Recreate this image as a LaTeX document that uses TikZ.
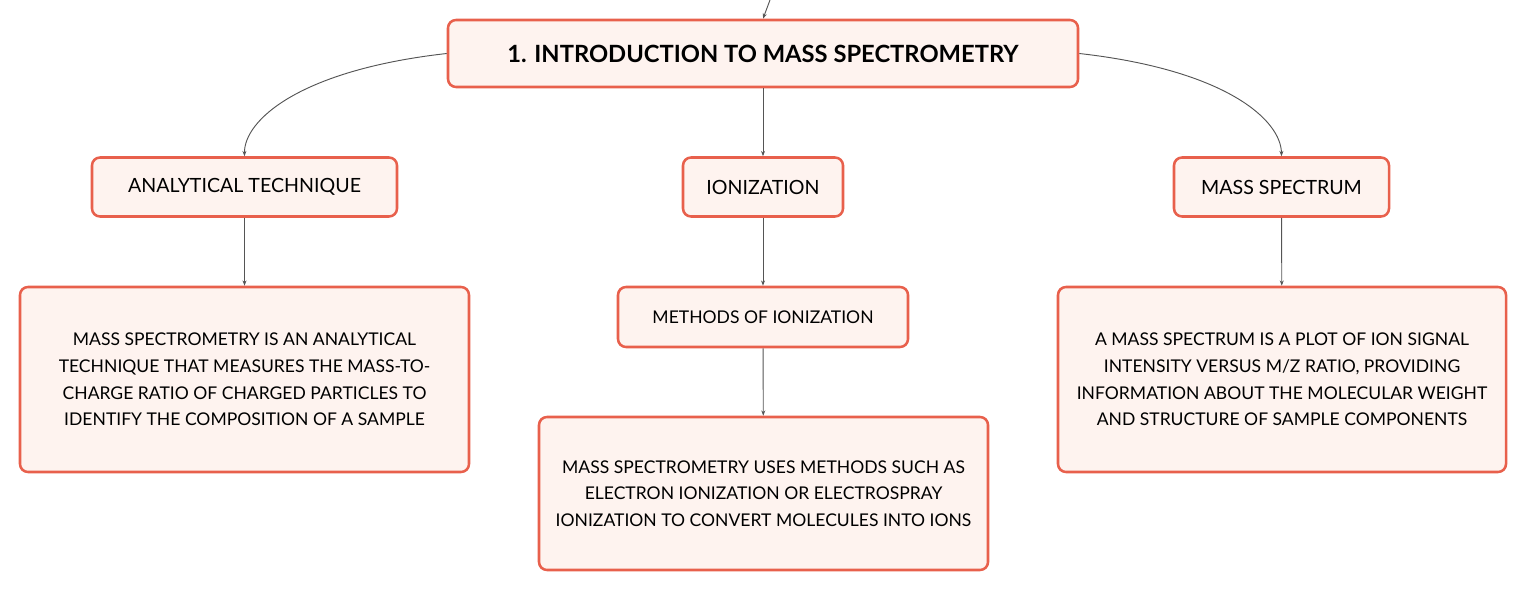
\documentclass[tikz,border=0pt]{standalone}
\usepackage{fontspec}
\setmainfont{Lato}
\usetikzlibrary{arrows.meta}
\definecolor{boxline}{HTML}{E8604C}
\definecolor{boxfill}{HTML}{FEF3EF}
\definecolor{linkgray}{HTML}{555555}
\tikzset{
	topicbox/.style={draw=boxline,fill=boxfill,line width=1.9pt,rounded corners=6pt,align=center,inner sep=0pt},
	link/.style={draw=linkgray,line width=0.7pt,-{Stealth[length=4pt,width=3pt]}}
}
\begin{document}
\begin{tikzpicture}[x=0.75pt,y=-0.75pt]
		\useasboundingbox (0,0) rectangle (1527,591);
		\node[topicbox,minimum width=630*0.75pt,minimum height=67*0.75pt,font=\fontsize{17.8}{20}\selectfont\bfseries] (intro) at (763,53.5) {1. INTRODUCTION TO MASS SPECTROMETRY};
		\node[topicbox,minimum width=305*0.75pt,minimum height=59*0.75pt,font=\fontsize{14.7}{16}\selectfont] (tech) at (244.5,187) {ANALYTICAL TECHNIQUE};
		\node[topicbox,minimum width=160*0.75pt,minimum height=59*0.75pt,font=\fontsize{14.7}{16}\selectfont] (ion) at (763,187) {IONIZATION};
		\node[topicbox,minimum width=215*0.75pt,minimum height=59*0.75pt,font=\fontsize{14.7}{16}\selectfont] (spec) at (1281.5,187) {MASS SPECTRUM};
		\node[topicbox,minimum width=449*0.75pt,minimum height=185*0.75pt,font=\fontsize{13.15}{20}\selectfont] (techdesc) at (244.5,379.5) {MASS SPECTROMETRY IS AN ANALYTICAL\\TECHNIQUE THAT MEASURES THE MASS-TO-\\CHARGE RATIO OF CHARGED PARTICLES TO\\IDENTIFY THE COMPOSITION OF A SAMPLE};
		\node[topicbox,minimum width=290*0.75pt,minimum height=60*0.75pt,font=\fontsize{13.15}{16}\selectfont] (methods) at (763,317) {METHODS OF IONIZATION};
		\node[topicbox,minimum width=449*0.75pt,minimum height=153*0.75pt,font=\fontsize{13.15}{20}\selectfont] (iondesc) at (763.5,493.5) {MASS SPECTROMETRY USES METHODS SUCH AS\\ELECTRON IONIZATION OR ELECTROSPRAY\\IONIZATION TO CONVERT MOLECULES INTO IONS};
		\node[topicbox,minimum width=448*0.75pt,minimum height=185*0.75pt,font=\fontsize{13.15}{20}\selectfont] (specdesc) at (1282,379.5) {A MASS SPECTRUM IS A PLOT OF ION SIGNAL\\INTENSITY VERSUS M/Z RATIO, PROVIDING\\INFORMATION ABOUT THE MOLECULAR WEIGHT\\AND STRUCTURE OF SAMPLE COMPONENTS};
		% incoming link from above
		\coordinate (above) at (770,0);
		\draw[link] (above) .. controls (767,8) .. (intro.north);
		% links
		\draw[link] (intro.west) .. controls (300,70) and (244,120) .. (tech.north);
		\draw[link] (intro.east) .. controls (1226,70) and (1281,120) .. (spec.north);
		\draw[link] (intro) -- (ion);
		\draw[link] (tech) -- (techdesc);
		\draw[link] (ion) -- (methods);
		\draw[link] (methods) -- (iondesc);
		\draw[link] (spec) -- (specdesc);
	\end{tikzpicture}
\end{document}
